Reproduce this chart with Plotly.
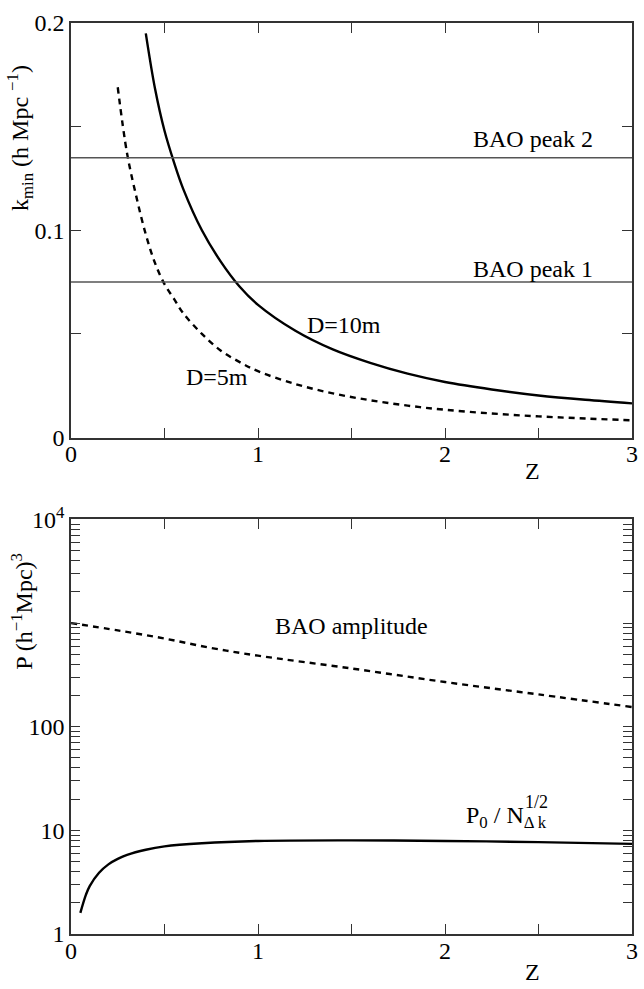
import numpy as np
import plotly.graph_objects as go
from plotly.subplots import make_subplots

# ---- top panel: minimum wavenumber vs redshift ----
z_d10 = [0.40, 0.45, 0.50, 0.55, 0.60, 0.70, 0.80, 0.90, 1.00, 1.20, 1.40, 1.60,
         1.80, 2.00, 2.25, 2.50, 2.75, 3.00]
k_d10 = [0.195, 0.168, 0.148, 0.133, 0.120, 0.100, 0.085, 0.073, 0.064, 0.0515,
         0.0425, 0.036, 0.0308, 0.0268, 0.0232, 0.0203, 0.0182, 0.0165]

z_d5 = [0.25, 0.30, 0.35, 0.40, 0.45, 0.50, 0.55, 0.60, 0.70, 0.80, 0.90, 1.00,
        1.20, 1.40, 1.60, 1.80, 2.00, 2.25, 2.50, 2.75, 3.00]
k_d5 = [0.169, 0.137, 0.116, 0.098, 0.084, 0.074, 0.067, 0.060, 0.050, 0.042,
        0.0365, 0.032, 0.0258, 0.0213, 0.018, 0.0154, 0.0134, 0.0116, 0.0102,
        0.0092, 0.0083]

bao_peaks = [0.075, 0.135]
bao_peak_names = ["BAO peak 1", "BAO peak 2"]

# ---- bottom panel: power vs redshift ----
z_amp = [0.0, 0.25, 0.5, 0.75, 1.0, 1.5, 2.0, 2.5, 3.0]
p_amp = [1000, 850, 710, 575, 485, 365, 270, 205, 155]

z_p0 = [0.05, 0.08, 0.10, 0.15, 0.20, 0.25, 0.30, 0.40, 0.50, 0.70, 1.00, 1.50,
        2.00, 2.50, 3.00]
p_p0 = [1.6, 2.4, 2.9, 3.9, 4.7, 5.3, 5.8, 6.5, 7.0, 7.5, 7.9, 8.0, 7.9, 7.7, 7.4]

x_tickvals = [0, 0.5, 1, 1.5, 2, 2.5, 3]
x_ticktext = ["0", "", "1", "", "2", "", "3"]
ktop_tickvals = [0, 0.05, 0.1, 0.15, 0.2]
ktop_ticktext = ["0", "", "0.1", "", "0.2"]
p_tickvals = [m * 10 ** e for e in range(0, 4) for m in range(1, 10)] + [10000]
p_labels = {1: "1", 10: "10", 100: "100", 10000: "10<sup>4</sup>"}
p_ticktext = [p_labels.get(v, "") for v in p_tickvals]

W, H = 644, 989
ML, MR, MT, MB = 71, 6, 11, 55
PW, PH = W - ML - MR, H - MT - MB


def px(x):
    return (x - ML) / PW


def py(y):
    return (H - MB - y) / PH


FONT = "Liberation Serif"
INK = "#000000"
AXC = "#333333"

fig = make_subplots(rows=2, cols=1)

fig.add_trace(go.Scatter(x=z_d10, y=k_d10, mode="lines", line_shape="spline",
                         line=dict(color=INK, width=2.4)), row=1, col=1)
fig.add_trace(go.Scatter(x=z_d5, y=k_d5, mode="lines", line_shape="spline",
                         line=dict(color=INK, width=2.4, dash="6px,5px")), row=1, col=1)
for kv in bao_peaks:
    fig.add_trace(go.Scatter(x=[0, 3], y=[kv, kv], mode="lines",
                             line=dict(color="#555555", width=1.5)), row=1, col=1)

fig.add_trace(go.Scatter(x=z_amp, y=p_amp, mode="lines", line_shape="spline",
                         line=dict(color=INK, width=2.4, dash="6px,5px")), row=2, col=1)
fig.add_trace(go.Scatter(x=z_p0, y=p_p0, mode="lines", line_shape="spline",
                         line=dict(color=INK, width=2.4)), row=2, col=1)

top_dom = [py(431), 1.0]
bot_dom = [0.0, py(514)]

tick_font = dict(family=FONT, size=24, color=INK)
axis_common = dict(showline=True, linecolor=AXC, linewidth=1.6, mirror="ticks",
                   ticks="inside", tickcolor=AXC, tickwidth=1.3, showgrid=False,
                   zeroline=False, tickfont=tick_font)

fig.update_xaxes(range=[0, 3], tickvals=x_tickvals, ticktext=x_ticktext,
                 ticklen=10, ticklabelstandoff=-6, **axis_common)
fig.update_yaxes(axis_common)
fig.update_yaxes(range=[0, 0.2], tickvals=ktop_tickvals, ticktext=ktop_ticktext,
                 ticklen=10, domain=top_dom, row=1, col=1)
fig.update_yaxes(type="log", range=[0, 4], tickvals=p_tickvals, ticktext=p_ticktext,
                 ticklen=9, domain=bot_dom, row=2, col=1)

ann = []
tf = dict(family=FONT, size=24, color=INK)
# curve and line labels
ann.append(dict(xref="x", yref="y", x=2.47, y=0.1441, text=bao_peak_names[1]))
ann.append(dict(xref="x", yref="y", x=2.47, y=0.0813, text=bao_peak_names[0]))
ann.append(dict(xref="x", yref="y", x=1.46, y=0.0545, text="D=10m"))
ann.append(dict(xref="x", yref="y", x=0.78, y=0.029, text="D=5m"))
ann.append(dict(xref="x2", yref="y2", x=1.5, y=2.97, text="BAO amplitude"))
ann.append(dict(xref="x2", yref="y2", x=2.33, y=np.log10(7.6) + 0.25,
                text="P<sub>0</sub> / N<sub>Δ k</sub>"))
ann.append(dict(xref="x2", yref="y2", x=2.33, y=np.log10(7.6) + 0.25,
                text="1/2", xshift=30, yshift=15, font=dict(family=FONT, size=18, color=INK)))
# axis titles
ann.append(dict(xref="paper", yref="paper", x=px(537), y=py(465), text="Z"))
ann.append(dict(xref="paper", yref="paper", x=px(537), y=py(972), text="Z"))
ann.append(dict(xref="paper", yref="paper", x=px(20), y=py(128), textangle=-90,
                text="k<sub>min</sub> (h Mpc <sup>−1</sup>)"))
ann.append(dict(xref="paper", yref="paper", x=px(22), y=py(607), textangle=-90,
                text="P (h<sup>−1</sup>Mpc)<sup>3</sup>"))
for a in ann:
    a.setdefault("font", tf)
    a.update(showarrow=False, xanchor="center", yanchor="middle")

fig.update_layout(width=W, height=H, margin=dict(l=ML, r=MR, t=MT, b=MB),
                  paper_bgcolor="white", plot_bgcolor="white", showlegend=False,
                  annotations=ann, font=dict(family=FONT, color=INK))

fig.write_html("out.html")
